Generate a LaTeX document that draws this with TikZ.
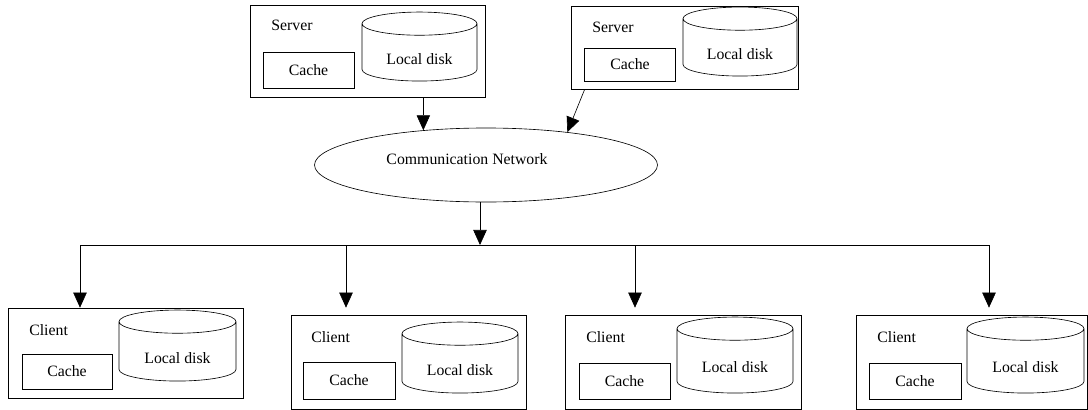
\documentclass[tikz,border=0pt]{standalone}
\usepackage{fontspec}
\setmainfont{Liberation Serif}
\usetikzlibrary{shapes,arrows.meta,fit,positioning}
\newcommand\px{0.633pt}
\tikzset{
	x=\px, y=-\px, line width=1.4pt, font=\fontsize{10}{12}\selectfont,
	arr/.style={-{Triangle[length=9.5pt,width=8.5pt]}},
	machine/.style={draw, inner sep=0pt, fit={#1}},
	cachebox/.style={draw, minimum width=91*\px, minimum height=36*\px},
	disk/.style={cylinder, shape border rotate=90, draw, aspect=0.35, inner sep=0pt, text height=15pt, minimum width=116*\px, minimum height=71*\px},
	tag/.style={anchor=west, inner sep=0pt}
}

\begin{document}
\begin{tikzpicture}

    \useasboundingbox (0,0) rectangle (1088,410);

    \node (s1) [machine={(250,5) (485,97)}] {};
    \node (s1tag) [tag] at (271,25) {Server};
    \node (s1cache) [cachebox] at (308.5,70) {Cache};
    \node (s1disk) [disk, minimum width=115*\px, minimum height=69*\px] at (419.5,52.5) {Local disk};

    \node (s2) [machine={(571,6) (798,89)}] {};
    \node (s2tag) [tag] at (592,27) {Server};
    \node (s2cache) [cachebox, minimum height=33*\px] at (630,64.5) {Cache};
    \node (s2disk) [disk, minimum width=114*\px, minimum height=69*\px] at (740,47.5) {Local disk};

    \node (net) [ellipse, draw, minimum width=343*\px, minimum height=74*\px] at (486,165) {};
    \node (nettag) at (467,159) {Communication Network};

    \node (c1) [machine={(8,308) (243,398)}] {};
    \node (c1tag) [tag] at (29,330) {Client};
    \node (c1cache) [cachebox, minimum width=90*\px, minimum height=35*\px] at (67,371.5) {Cache};
    \node (c1disk) [disk, minimum width=117*\px] at (177.5,351.5) {Local disk};

    \node (c2) [machine={(291,315) (526,409)}] {};
    \node (c2tag) [tag] at (311,337) {Client};
    \node (c2cache) [cachebox, minimum width=92*\px, minimum height=37*\px] at (349,380.5) {Cache};
    \node (c2disk) [disk] at (460,363.5) {Local disk};

    \node (c3) [machine={(565,315) (801,409)}] {};
    \node (c3tag) [tag] at (586,337) {Client};
    \node (c3cache) [cachebox] at (624.5,381) {Cache};
    \node (c3disk) [disk, minimum height=76*\px] at (735,361) {Local disk};

    \node (c4) [machine={(856,315) (1087,409)}] {};
    \node (c4tag) [tag] at (877,337) {Client};
    \node (c4cache) [cachebox, minimum width=92*\px] at (915,381) {Cache};
    \node (c4disk) [disk, minimum width=117*\px, minimum height=76*\px] at (1025.5,361) {Local disk};

    \path[arr] (s1.south -| net.151) edge (net.151);
    \path[arr] ([xshift=14*\px]s2.south west) edge (net.22);

    \coordinate (hub) at (480,245);
    \coordinate (b1) at (80,245);
    \coordinate (b2) at (346,245);
    \coordinate (b3) at (635,245);
    \coordinate (b4) at (989,245);

    \draw[arr] (net.south -| hub) -- (hub);
    \draw[arr] (b4) -- (b1) -- (b1 |- c1.north);
    \draw[arr] (b2) -- (b2 |- c1.north);
    \draw[arr] (b3) -- (b3 |- c1.north);
    \draw[arr] (b3) -- (b4) -- (b4 |- c1.north);

\end{tikzpicture}
\end{document}
